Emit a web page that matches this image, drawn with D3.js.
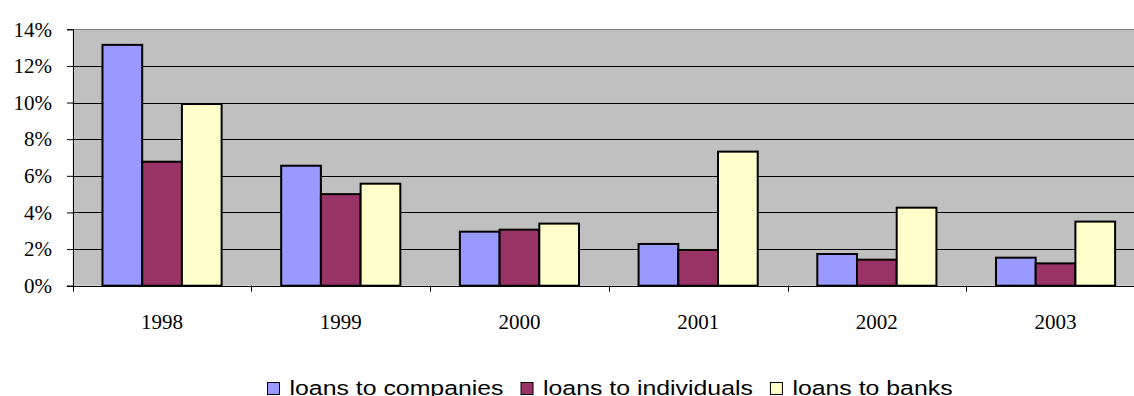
<!DOCTYPE html>
<html>
<head>
<meta charset="utf-8">
<script src="https://cdn.jsdelivr.net/npm/d3@7"></script>
<style>
  body { margin: 0; background: #fff; }
  svg { display: block; }
</style>
</head>
<body>
<svg id="chart"></svg>
<script>
  // data
  var years = ["1998", "1999", "2000", "2001", "2002", "2003"];
  var seriesNames = ["loans to companies", "loans to individuals", "loans to banks"];
  var companies = [13.15, 6.55, 2.95, 2.28, 1.73, 1.53];
  var individuals = [6.77, 5.0, 3.06, 1.95, 1.42, 1.22];
  var banks = [9.92, 5.57, 3.39, 7.32, 4.26, 3.5];
  var yTicks = [0, 2, 4, 6, 8, 10, 12, 14];
  var colors = ["#9999ff", "#993366", "#ffffcc"];

  var svgWidth = 1134, svgHeight = 396;
  var plot = { left: 72.7, right: 1144.9, top: 29.3, bottom: 285.7 };
  var serif = "'Liberation Serif', 'Times New Roman', serif";

  var svg = d3.select("#chart")
      .attr("width", svgWidth)
      .attr("height", svgHeight);

  var x = d3.scaleBand()
      .domain(years)
      .range([plot.left, plot.right])
      .paddingInner(1 / 3)
      .paddingOuter(1 / 6);

  var xSub = d3.scaleBand()
      .domain(seriesNames)
      .range([0, x.bandwidth()]);

  var y = d3.scaleLinear()
      .domain([0, 14])
      .range([plot.bottom, plot.top]);

  // grey plot area
  svg.append("rect")
      .attr("x", plot.left)
      .attr("y", plot.top)
      .attr("width", plot.right - plot.left)
      .attr("height", plot.bottom - plot.top)
      .attr("fill", "#c0c0c0");

  // gridlines
  svg.append("g")
    .selectAll("line")
    .data(yTicks.slice(1))
    .enter().append("line")
      .attr("x1", plot.left)
      .attr("x2", plot.right)
      .attr("y1", function(d) { return Math.round(y(d)) + 0.5; })
      .attr("y2", function(d) { return Math.round(y(d)) + 0.5; })
      .attr("stroke", function(d) { return d == 14 ? "#808080" : "#000"; })
      .attr("stroke-width", 1);

  // bars
  var table = years.map(function(yr, i) {
    return [
      { year: yr, name: seriesNames[0], value: companies[i], color: colors[0] },
      { year: yr, name: seriesNames[1], value: individuals[i], color: colors[1] },
      { year: yr, name: seriesNames[2], value: banks[i], color: colors[2] }
    ];
  });

  svg.append("g")
    .selectAll("g")
    .data(table)
    .enter().append("g")
      .attr("transform", function(d) { return "translate(" + x(d[0].year) + ",0)"; })
    .selectAll("rect")
    .data(function(d) { return d; })
    .enter().append("rect")
      .attr("x", function(d) { return xSub(d.name); })
      .attr("y", function(d) { return y(d.value); })
      .attr("width", xSub.bandwidth())
      .attr("height", function(d) { return y(0) - y(d.value); })
      .attr("fill", function(d) { return d.color; })
      .attr("stroke", "#000")
      .attr("stroke-width", 2);

  // y axis
  var yAxis = svg.append("g")
      .attr("transform", "translate(" + Math.round(plot.left) + ",0)")
      .call(d3.axisLeft(y).tickValues(yTicks).tickSize(6).tickPadding(15)
        .tickFormat(function(d) { return d + "%"; }));
  yAxis.select(".domain").attr("stroke", "#000");
  yAxis.selectAll("text")
      .attr("font-family", serif)
      .attr("font-size", "21px")
      .attr("fill", "#000");

  // x axis, ticks between categories
  var boundaries = years.map(function(yr) { return x(yr) - x.step() * x.paddingOuter(); });
  var xg = svg.append("g");
  xg.append("line")
      .attr("x1", plot.left - 6)
      .attr("x2", plot.right)
      .attr("y1", Math.round(plot.bottom) + 0.5)
      .attr("y2", Math.round(plot.bottom) + 0.5)
      .attr("stroke", "#000");
  xg.selectAll(".tk")
    .data(boundaries)
    .enter().append("line")
      .attr("class", "tk")
      .attr("x1", function(d) { return Math.round(d) + 0.5; })
      .attr("x2", function(d) { return Math.round(d) + 0.5; })
      .attr("y1", plot.bottom)
      .attr("y2", plot.bottom + 6)
      .attr("stroke", "#000");
  xg.selectAll("text")
    .data(years)
    .enter().append("text")
      .attr("x", function(d) { return x(d) + x.bandwidth() / 2; })
      .attr("y", 329)
      .attr("text-anchor", "middle")
      .attr("font-family", serif)
      .attr("font-size", "21px")
      .text(function(d) { return d; });

  // legend (text is drawn a bit wide in the original)
  var stretch = 1.274;
  var legend = svg.append("g")
      .attr("font-family", "'Liberation Sans', Arial, sans-serif")
      .attr("font-size", "19.5px");
  var lx = 267;
  seriesNames.forEach(function(name, i) {
    legend.append("rect")
        .attr("x", lx + 0.5)
        .attr("y", 382.5)
        .attr("width", 12)
        .attr("height", 12)
        .attr("fill", colors[i])
        .attr("stroke", "#000");
    var tx = lx + 22.5;
    var t = legend.append("text")
        .attr("transform", "translate(" + tx + ",394.5) scale(" + stretch + ",1)")
        .text(name);
    lx = tx + t.node().getComputedTextLength() * stretch + 17;
  });
</script>
</body>
</html>
